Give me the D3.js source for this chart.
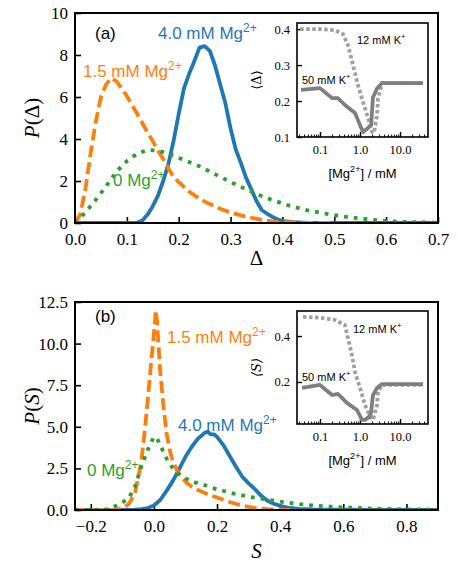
<!DOCTYPE html>
<html>
<head>
<meta charset="utf-8">
<script src="https://cdn.jsdelivr.net/npm/d3@7"></script>
<style>
body { margin: 0; background: #fff; }
</style>
</head>
<body>
<svg id="fig" width="458" height="570"></svg>
<script>
// ---- panel (a): P(Delta) ----
var a4x = [0, 0.05, 0.10, 0.12, 0.13, 0.14, 0.15, 0.16, 0.17, 0.18, 0.19, 0.20, 0.21, 0.22, 0.23, 0.24, 0.25, 0.26, 0.27, 0.28, 0.29, 0.30, 0.31, 0.32, 0.33, 0.34, 0.35, 0.36, 0.37, 0.38, 0.39, 0.40, 0.42, 0.45, 0.50, 0.60, 0.70];
var a4y = [0, 0, 0, 0.02, 0.12, 0.4, 0.8, 1.3, 2.0, 2.8, 3.9, 5.2, 6.4, 7.1, 7.7, 8.35, 8.42, 8.2, 7.5, 6.6, 5.7, 4.5, 3.5, 2.85, 2.15, 1.6, 1.05, 0.62, 0.45, 0.3, 0.18, 0.1, 0.04, 0.01, 0, 0, 0];
var a15x = [0, 0.01, 0.02, 0.03, 0.04, 0.05, 0.06, 0.07, 0.08, 0.09, 0.10, 0.11, 0.12, 0.13, 0.14, 0.15, 0.16, 0.17, 0.18, 0.19, 0.20, 0.22, 0.24, 0.26, 0.28, 0.30, 0.32, 0.34, 0.36, 0.38, 0.40, 0.45, 0.50];
var a15y = [0, 0.4, 1.6, 3.3, 4.8, 6.0, 6.6, 6.9, 6.75, 6.4, 6.05, 5.6, 5.2, 4.75, 4.3, 3.9, 3.45, 3.05, 2.6, 2.2, 1.95, 1.5, 1.15, 0.9, 0.68, 0.5, 0.36, 0.25, 0.15, 0.08, 0.04, 0.01, 0];
var a0x = [0, 0.02, 0.04, 0.06, 0.08, 0.10, 0.12, 0.14, 0.16, 0.18, 0.20, 0.22, 0.24, 0.26, 0.28, 0.30, 0.32, 0.34, 0.36, 0.38, 0.40, 0.42, 0.44, 0.46, 0.48, 0.50, 0.52, 0.54, 0.56, 0.58, 0.60, 0.62, 0.64, 0.66, 0.68, 0.70];
var a0y = [0, 0.5, 1.1, 1.75, 2.45, 2.95, 3.3, 3.48, 3.45, 3.3, 3.1, 2.9, 2.7, 2.45, 2.2, 1.95, 1.72, 1.5, 1.28, 1.1, 0.93, 0.78, 0.65, 0.55, 0.46, 0.38, 0.3, 0.24, 0.19, 0.14, 0.1, 0.07, 0.05, 0.04, 0.03, 0.02];
var aXTicks = [0, 0.1, 0.2, 0.3, 0.4, 0.5, 0.6, 0.7];
var aYTicks = [0, 2, 4, 6, 8, 10];

// ---- panel (b): P(S) ----
var b4x = [-0.25, -0.10, -0.06, -0.04, -0.02, 0.0, 0.02, 0.04, 0.06, 0.08, 0.10, 0.12, 0.14, 0.16, 0.17, 0.18, 0.19, 0.20, 0.22, 0.24, 0.26, 0.28, 0.30, 0.32, 0.34, 0.36, 0.38, 0.40, 0.43, 0.46, 0.50, 0.60, 0.70, 0.90];
var b4y = [0, 0, 0.02, 0.05, 0.12, 0.27, 0.6, 1.15, 1.75, 2.45, 3.2, 3.8, 4.3, 4.62, 4.7, 4.55, 4.55, 4.4, 3.9, 3.25, 2.6, 2.0, 1.6, 1.25, 0.85, 0.55, 0.38, 0.25, 0.12, 0.07, 0.04, 0.02, 0.01, 0];
var b15x = [-0.25, -0.15, -0.12, -0.10, -0.08, -0.06, -0.04, -0.03, -0.02, -0.01, 0.0, 0.006, 0.01, 0.02, 0.03, 0.04, 0.05, 0.06, 0.08, 0.10, 0.12, 0.14, 0.16, 0.18, 0.20, 0.22, 0.24, 0.26, 0.28, 0.30, 0.32, 0.34, 0.36, 0.38, 0.40, 0.45];
var b15y = [0, 0, 0.02, 0.1, 0.35, 1.0, 2.9, 4.6, 6.5, 8.6, 10.6, 12.0, 11.3, 8.3, 6.3, 4.6, 3.6, 2.9, 2.15, 1.7, 1.4, 1.2, 1.03, 0.88, 0.75, 0.62, 0.48, 0.37, 0.27, 0.19, 0.13, 0.08, 0.05, 0.03, 0.015, 0];
var b0x = [-0.25, -0.20, -0.15, -0.12, -0.10, -0.08, -0.06, -0.04, -0.02, 0.0, 0.01, 0.02, 0.04, 0.06, 0.08, 0.10, 0.12, 0.14, 0.16, 0.18, 0.20, 0.25, 0.30, 0.35, 0.40, 0.45, 0.50, 0.55, 0.60, 0.65, 0.70, 0.75, 0.80, 0.85, 0.90];
var b0y = [0, 0, 0.03, 0.25, 0.45, 0.7, 1.4, 2.6, 3.6, 4.4, 4.3, 3.9, 3.1, 2.5, 2.15, 1.9, 1.72, 1.6, 1.5, 1.35, 1.25, 1.0, 0.8, 0.66, 0.5, 0.38, 0.28, 0.21, 0.16, 0.12, 0.08, 0.06, 0.04, 0.03, 0.02];
var bXTicks = [-0.2, 0, 0.2, 0.4, 0.6, 0.8];
var bYTicks = [0, 2.5, 5, 7.5, 10, 12.5];

// ---- insets: mean vs [Mg2+] ----
var ia12x = [0.032, 0.1, 0.237, 0.376, 0.5, 0.668, 0.891, 1.19, 1.585, 2.0, 2.24, 2.66, 2.82, 3.55, 5, 10, 20, 37.6];
var ia12y = [0.4, 0.4, 0.397, 0.386, 0.355, 0.30, 0.244, 0.197, 0.153, 0.114, 0.111, 0.161, 0.208, 0.25, 0.25, 0.25, 0.25, 0.25];
var ia50x = [0.0335, 0.1, 0.2, 0.28, 0.42, 0.75, 1.0, 1.19, 1.58, 1.9, 2.1, 2.66, 3.55, 5, 10, 20, 37.6];
var ia50y = [0.231, 0.236, 0.208, 0.208, 0.189, 0.167, 0.133, 0.114, 0.125, 0.133, 0.21, 0.235, 0.25, 0.25, 0.25, 0.25, 0.25];
var ib12x = [0.0376, 0.1, 0.237, 0.42, 0.5, 0.63, 0.75, 1.0, 1.33, 1.78, 2.11, 2.66, 2.82, 3.55, 5, 10, 20, 37.6];
var ib12y = [0.483, 0.48, 0.47, 0.448, 0.39, 0.317, 0.243, 0.174, 0.1, 0.048, 0.035, 0.1, 0.157, 0.187, 0.187, 0.187, 0.187, 0.187];
var ib50x = [0.0355, 0.1, 0.2, 0.28, 0.47, 0.84, 1.12, 1.33, 1.68, 1.88, 2.11, 2.66, 3.55, 5, 10, 20, 37.6];
var ib50y = [0.174, 0.187, 0.143, 0.148, 0.109, 0.078, 0.035, 0.035, 0.048, 0.065, 0.143, 0.174, 0.191, 0.191, 0.191, 0.191, 0.191];
var insXTicks = [0.1, 1, 10];
var insXLabels = ["0.1", "1.0", "10.0"];
var iaYTicks = [0.1, 0.2, 0.3, 0.4];
var ibYTicks = [0.2, 0.4];

var BLUE = "#1f77b4", ORANGE = "#ff7f0e", GREEN = "#2ca02c";
var SERIF = "'Liberation Serif', 'DejaVu Serif', serif";
var svg = d3.select("#fig");

function zip(xs, ys) { return xs.map(function(v, i) { return [v, ys[i]]; }); }

function label(g, x, y, base, sup, color, size, after) {
    var t = g.append("text").attr("x", x).attr("y", y).attr("dy", "0.35em")
        .attr("fill", color).style("font-size", size + "px")
        .style("font-family", "'Liberation Sans', Arial, sans-serif");
    t.append("tspan").text(base);
    if (sup) t.append("tspan").attr("dy", -0.42 * size).style("font-size", (0.7 * size) + "px").text(sup);
    if (after) t.append("tspan").attr("dy", 0.42 * size).text(after);
    return t;
}

function styleAxis(sel, fs, w) {
    sel.attr("font-family", null).attr("font-size", null);
    sel.select(".domain").remove();
    sel.selectAll("line").attr("stroke", "#000").style("stroke-width", w);
    sel.selectAll("text").attr("fill", "#000").style("font-family", SERIF).style("font-size", fs + "px");
}

function panel(p) {
    var g = svg.append("g");
    var x = d3.scaleLinear().domain(p.xDom).range([p.L, p.R]);
    var y = d3.scaleLinear().domain(p.yDom).range([p.B, p.T]);
    var id = "clip" + p.name;
    svg.append("clipPath").attr("id", id).append("rect")
        .attr("x", p.L).attr("y", p.T - 4).attr("width", p.R - p.L).attr("height", p.B - p.T + 4);

    var xa = d3.axisBottom(x).tickValues(p.xTicks).tickSizeInner(-6).tickSizeOuter(0).tickPadding(10)
        .tickFormat(d3.format(p.xFmt));
    g.append("g").attr("transform", "translate(0," + p.B + ")").call(xa).call(styleAxis, 17, 1.6);
    var ya = d3.axisLeft(y).tickValues(p.yTicks).tickSizeInner(-6).tickSizeOuter(0).tickPadding(7)
        .tickFormat(d3.format(p.yFmt));
    g.append("g").attr("transform", "translate(" + p.L + ",0)").call(ya).call(styleAxis, 17, 1.6);

    var line = d3.line().x(function(d) { return x(d[0]); }).y(function(d) { return y(d[1]); });
    var lines = g.append("g").attr("clip-path", "url(#" + id + ")");
    p.series.forEach(function(s) {
        lines.append("path").datum(zip(s.x, s.y)).attr("d", line)
            .attr("fill", "none").attr("stroke", s.color).attr("stroke-width", 3.8)
            .attr("stroke-dasharray", s.dash).attr("stroke-linejoin", "round");
    });

    g.append("rect").attr("x", p.L).attr("y", p.T).attr("width", p.R - p.L).attr("height", p.B - p.T)
        .attr("fill", "none").attr("stroke", "#000").attr("stroke-width", 2);

    // axis labels
    var yl = g.append("text").attr("transform", "translate(" + p.ylx + "," + ((p.T + p.B) / 2) + ") rotate(-90)")
        .attr("text-anchor", "middle").attr("dy", "0.35em")
        .style("font-family", SERIF).style("font-size", "21px");
    yl.append("tspan").style("font-style", "italic").text("P");
    yl.append("tspan").text("(");
    yl.append("tspan").style("font-style", p.symItalic ? "italic" : "normal").text(p.sym);
    yl.append("tspan").text(")");
    g.append("text").attr("x", (p.L + p.R) / 2).attr("y", p.xly).attr("text-anchor", "middle").attr("dy", "0.35em")
        .style("font-family", SERIF).style("font-size", "21px")
        .style("font-style", p.symItalic ? "italic" : "normal").text(p.sym);

    p.labels.forEach(function(l) { label(g, l[0], l[1], l[2], l[3], l[4], 17); });
}

function inset(p) {
    var g = svg.append("g");
    var x = d3.scaleLog().domain([0.0266, 50]).range([p.L, p.R]);
    var y = d3.scaleLinear().domain(p.yDom).range([p.B, p.T]);
    g.append("rect").attr("x", p.L).attr("y", p.T).attr("width", p.R - p.L).attr("height", p.B - p.T)
        .attr("fill", "#fff");

    var minor = [];
    [0.01, 0.1, 1, 10].forEach(function(dec) {
        for (var k = 2; k <= 9; k++) { var v = k * dec; if (v > 0.0266 && v < 50) minor.push(v); }
    });
    g.append("g").attr("transform", "translate(0," + p.B + ")")
        .call(d3.axisBottom(x).tickValues(minor).tickSizeInner(-2.5).tickSizeOuter(0).tickFormat(""))
        .call(styleAxis, 12, 1);
    g.append("g").attr("transform", "translate(0," + p.B + ")")
        .call(d3.axisBottom(x).tickValues(insXTicks).tickSizeInner(-5).tickSizeOuter(0).tickPadding(8)
            .tickFormat(function(d, i) { return insXLabels[i]; }))
        .call(styleAxis, 12.5, 1.4);
    g.append("g").attr("transform", "translate(" + p.L + ",0)")
        .call(d3.axisLeft(y).tickValues(p.yTicks).tickSizeInner(-5).tickSizeOuter(0).tickPadding(7)
            .tickFormat(d3.format(".1f")))
        .call(styleAxis, 12.5, 1.4);

    var line = d3.line().x(function(d) { return x(d[0]); }).y(function(d) { return y(d[1]); });
    g.append("path").datum(zip(p.s12x, p.s12y)).attr("d", line).attr("fill", "none")
        .attr("stroke", "#a0a0a0").attr("stroke-width", 3.8).attr("stroke-dasharray", "3.5,2.5");
    g.append("path").datum(zip(p.s50x, p.s50y)).attr("d", line).attr("fill", "none")
        .attr("stroke", "#7f7f7f").attr("stroke-width", 3.8).attr("stroke-linejoin", "round");

    g.append("rect").attr("x", p.L).attr("y", p.T).attr("width", p.R - p.L).attr("height", p.B - p.T)
        .attr("fill", "none").attr("stroke", "#000").attr("stroke-width", 1.6);

    label(g, p.k12[0], p.k12[1], "12 mM K", "+", "#000", 11);
    label(g, p.k50[0], p.k50[1], "50 mM K", "+", "#000", 11);
    label(g, (p.L + p.R) / 2, p.B + 36, "[Mg", "2+", "#000", 13, "] / mM").attr("text-anchor", "middle");
    g.append("text").attr("transform", "translate(256," + ((p.T + p.B) / 2) + ") rotate(-90)")
        .attr("text-anchor", "middle").attr("dy", "0.35em")
        .style("font-family", "'DejaVu Serif', serif").style("font-size", "13px")
        .style("font-style", p.symItalic ? "italic" : "normal")
        .text("\u27E8" + p.sym + "\u27E9");
}

panel({
    name: "a", L: 75, R: 438, T: 13, B: 223, xDom: [0, 0.7], yDom: [0, 10],
    xTicks: aXTicks, yTicks: aYTicks, xFmt: ".1f", yFmt: "d",
    sym: "\u0394", symItalic: false, ylx: 32, xly: 258,
    series: [
        { x: a4x, y: a4y, color: BLUE, dash: null },
        { x: a15x, y: a15y, color: ORANGE, dash: "12,5" },
        { x: a0x, y: a0y, color: GREEN, dash: "3.8,6" }
    ],
    labels: [
        [95, 33, "(a)", null, "#000"],
        [158, 33, "4.0 mM Mg", "2+", BLUE],
        [83, 71, "1.5 mM Mg", "2+", ORANGE],
        [113, 180, "0 Mg", "2+", GREEN]
    ]
});
inset({
    L: 297, R: 428, T: 23, B: 137, yDom: [0.1, 0.417], yTicks: iaYTicks,
    s12x: ia12x, s12y: ia12y, s50x: ia50x, s50y: ia50y,
    k12: [357, 40], k50: [302, 80], sym: "\u0394", symItalic: false
});

panel({
    name: "b", L: 75, R: 438, T: 302, B: 510, xDom: [-0.25, 0.9], yDom: [0, 12.5],
    xTicks: bXTicks, yTicks: bYTicks, xFmt: ".1f", yFmt: ".1f",
    sym: "S", symItalic: true, ylx: 32, xly: 551,
    series: [
        { x: b4x, y: b4y, color: BLUE, dash: null },
        { x: b15x, y: b15y, color: ORANGE, dash: "12,5" },
        { x: b0x, y: b0y, color: GREEN, dash: "3.8,6" }
    ],
    labels: [
        [95, 316, "(b)", null, "#000"],
        [167, 337, "1.5 mM Mg", "2+", ORANGE],
        [178, 425, "4.0 mM Mg", "2+", BLUE],
        [87, 470, "0 Mg", "2+", GREEN]
    ]
});
inset({
    L: 297, R: 428, T: 311, B: 424, yDom: [0.017, 0.509], yTicks: ibYTicks,
    s12x: ib12x, s12y: ib12y, s50x: ib50x, s50y: ib50y,
    k12: [353, 329], k50: [302, 377], sym: "S", symItalic: true
});
</script>
</body>
</html>
